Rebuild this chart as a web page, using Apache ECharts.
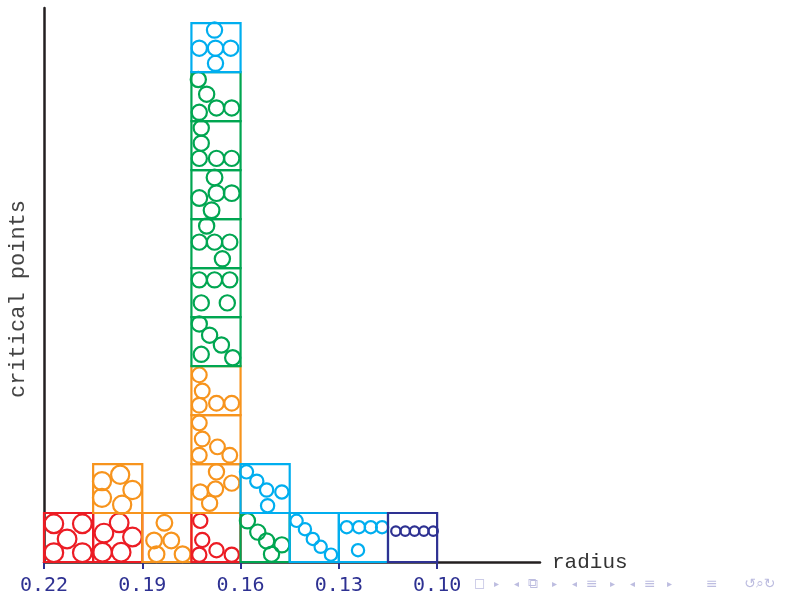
<!DOCTYPE html>
<html>
<head>
<meta charset="utf-8">
<script src="https://cdn.jsdelivr.net/npm/echarts@6/dist/echarts.min.js"></script>
<style>
  html, body { margin: 0; padding: 0; background: #fff; }
  #chart { width: 796px; height: 594px; }
</style>
</head>
<body>
<div id="chart"></div>
<script>
// bins of the radius histogram (left edge = larger radius), width 0.015
var binWidth = 0.015;
var binStart = [0.22, 0.205, 0.19, 0.175, 0.16, 0.145, 0.13, 0.115];
var tickValues = [0.22, 0.19, 0.16, 0.13, 0.10];

// every box of the stacked histogram: which bin, which level, which colour
var boxBin   = [0, 1, 1, 2, 3, 3, 3, 3, 3, 3, 3, 3, 3, 3, 3, 4, 4, 5, 6, 7];
var boxLevel = [0, 0, 1, 0, 0, 1, 2, 3, 4, 5, 6, 7, 8, 9, 10, 0, 1, 0, 0, 0];
var boxKind  = ['red', 'red', 'orange', 'orange', 'red', 'orange', 'orange', 'orange',
                'green', 'green', 'green', 'green', 'green', 'green', 'blue',
                'green', 'blue', 'blue', 'blue', 'navy'];

// critical points drawn inside each box (fraction of box: across, up) and circle radius
var boxPoints = [
  [[0.20, 0.78], [0.78, 0.78], [0.47, 0.47], [0.20, 0.19], [0.78, 0.19]],
  [[0.53, 0.80], [0.22, 0.59], [0.80, 0.51], [0.19, 0.20], [0.57, 0.20]],
  [[0.18, 0.65], [0.55, 0.78], [0.80, 0.47], [0.18, 0.31], [0.59, 0.17]],
  [[0.45, 0.80], [0.24, 0.44], [0.59, 0.44], [0.29, 0.16], [0.82, 0.16]],
  [[0.18, 0.84], [0.22, 0.45], [0.16, 0.15], [0.51, 0.24], [0.82, 0.15]],
  [[0.51, 0.84], [0.82, 0.61], [0.49, 0.49], [0.18, 0.43], [0.37, 0.20]],
  [[0.16, 0.84], [0.22, 0.51], [0.53, 0.35], [0.16, 0.18], [0.78, 0.18]],
  [[0.16, 0.82], [0.22, 0.49], [0.16, 0.20], [0.51, 0.24], [0.82, 0.24]],
  [[0.16, 0.86], [0.37, 0.63], [0.61, 0.43], [0.20, 0.24], [0.84, 0.17]],
  [[0.16, 0.76], [0.47, 0.76], [0.78, 0.76], [0.20, 0.29], [0.73, 0.29]],
  [[0.31, 0.86], [0.16, 0.53], [0.47, 0.53], [0.78, 0.53], [0.63, 0.19]],
  [[0.47, 0.85], [0.16, 0.43], [0.51, 0.53], [0.82, 0.53], [0.41, 0.18]],
  [[0.20, 0.86], [0.20, 0.55], [0.16, 0.24], [0.51, 0.24], [0.82, 0.24]],
  [[0.14, 0.85], [0.31, 0.55], [0.16, 0.18], [0.51, 0.27], [0.82, 0.27]],
  [[0.47, 0.86], [0.16, 0.49], [0.49, 0.49], [0.80, 0.49], [0.49, 0.18]],
  [[0.14, 0.84], [0.35, 0.61], [0.53, 0.43], [0.84, 0.35], [0.63, 0.16]],
  [[0.12, 0.84], [0.33, 0.65], [0.53, 0.47], [0.84, 0.43], [0.55, 0.15]],
  [[0.14, 0.84], [0.31, 0.67], [0.47, 0.47], [0.63, 0.31], [0.84, 0.15]],
  [[0.16, 0.71], [0.41, 0.71], [0.65, 0.71], [0.88, 0.71], [0.39, 0.24]],
  [[0.16, 0.63], [0.35, 0.63], [0.54, 0.63], [0.73, 0.63], [0.92, 0.63]]
];
var boxPointSize = [0.19, 0.19, 0.185, 0.16, 0.145, 0.155, 0.15, 0.15, 0.155, 0.155,
                    0.155, 0.16, 0.155, 0.155, 0.155, 0.155, 0.135, 0.125, 0.125, 0.095];

var colors = {
  red: '#ec1c24',
  orange: '#f7941d',
  green: '#00a651',
  blue: '#00aeef',
  navy: '#2e3192'
};

var boxData = [];
for (var i = 0; i < boxBin.length; i++) {
  boxData.push([binStart[boxBin[i]], boxLevel[i], i]);
}

function renderBox(params, api) {
  var idx = api.value(2);
  var x0 = api.value(0);
  var lv = api.value(1);
  var p0 = api.coord([x0, lv]);
  var p1 = api.coord([x0 - binWidth, lv + 1]);
  var w = Math.abs(p1[0] - p0[0]);
  var col = colors[boxKind[idx]];
  var children = [{
    type: 'rect',
    shape: { x: Math.min(p0[0], p1[0]), y: p1[1], width: w, height: p0[1] - p1[1] },
    style: { fill: 'none', stroke: col, lineWidth: 2.2 }
  }];
  var pts = boxPoints[idx];
  for (var k = 0; k < pts.length; k++) {
    var c = api.coord([x0 - pts[k][0] * binWidth, lv + pts[k][1]]);
    children.push({
      type: 'circle',
      shape: { cx: c[0], cy: c[1], r: boxPointSize[idx] * w },
      style: { fill: 'none', stroke: col, lineWidth: 2.2 }
    });
  }
  return { type: 'group', children: children };
}

var myChart = echarts.init(document.getElementById('chart'));
var navColor = '#bdbde0';
var option = {
  animation: false,
  grid: { left: 44, right: 256, top: 8, bottom: 32, containLabel: false, outerBoundsMode: 'none' },
  xAxis: {
    type: 'value',
    inverse: true,
    min: 0.0686,
    max: 0.22,
    name: 'radius',
    nameLocation: 'start',
    nameGap: 12,
    nameTextStyle: {
      fontFamily: 'Liberation Mono',
      fontSize: 21,
      color: '#333',
      padding: [10, 0, 0, 0]
    },
    axisLine: { lineStyle: { color: '#231f20', width: 2.5 } },
    axisTick: {
      customValues: tickValues,
      length: 7,
      lineStyle: { color: '#2e3192', width: 2 }
    },
    axisLabel: {
      customValues: tickValues,
      formatter: function (v) { return v.toFixed(2); },
      fontFamily: 'DejaVu Sans Mono',
      fontSize: 20,
      color: '#2e3192',
      margin: 14
    },
    splitLine: { show: false }
  },
  yAxis: {
    type: 'value',
    min: 0,
    max: 11.31,
    name: 'critical points',
    nameLocation: 'middle',
    nameRotate: 90,
    nameGap: 15,
    nameTextStyle: {
      fontFamily: 'Liberation Mono',
      fontSize: 22,
      color: '#444',
      padding: [0, 28, 0, 0]
    },
    axisLine: { show: true, lineStyle: { color: '#231f20', width: 2.5 } },
    axisTick: { show: false },
    axisLabel: { show: false },
    splitLine: { show: false }
  },
  graphic: [
    { type: 'text', left: 474, top: 578, style: { text: '\u25A1', fill: navColor, font: '12px DejaVu Sans' } },
    { type: 'text', left: 494, top: 579, style: { text: '\u25B8', fill: navColor, font: '10px DejaVu Sans' } },
    { type: 'text', left: 514, top: 579, style: { text: '\u25C2', fill: navColor, font: '10px DejaVu Sans' } },
    { type: 'text', left: 528, top: 577, style: { text: '\u29C9', fill: navColor, font: '14px DejaVu Sans' } },
    { type: 'text', left: 552, top: 579, style: { text: '\u25B8', fill: navColor, font: '10px DejaVu Sans' } },
    { type: 'text', left: 572, top: 579, style: { text: '\u25C2', fill: navColor, font: '10px DejaVu Sans' } },
    { type: 'text', left: 586, top: 577, style: { text: '\u2261', fill: navColor, font: '14px DejaVu Sans' } },
    { type: 'text', left: 610, top: 579, style: { text: '\u25B8', fill: navColor, font: '10px DejaVu Sans' } },
    { type: 'text', left: 630, top: 579, style: { text: '\u25C2', fill: navColor, font: '10px DejaVu Sans' } },
    { type: 'text', left: 644, top: 577, style: { text: '\u2261', fill: navColor, font: '14px DejaVu Sans' } },
    { type: 'text', left: 667, top: 579, style: { text: '\u25B8', fill: navColor, font: '10px DejaVu Sans' } },
    { type: 'text', left: 706, top: 577, style: { text: '\u2261', fill: navColor, font: '14px DejaVu Sans' } },
    { type: 'text', left: 744, top: 577, style: { text: '\u21BA\u2315\u21BB', fill: navColor, font: '14px DejaVu Sans' } }
  ],
  series: [{
    type: 'custom',
    renderItem: renderBox,
    encode: { x: 0, y: 1 },
    data: boxData,
    clip: false
  }]
};
myChart.setOption(option);
</script>
</body>
</html>
